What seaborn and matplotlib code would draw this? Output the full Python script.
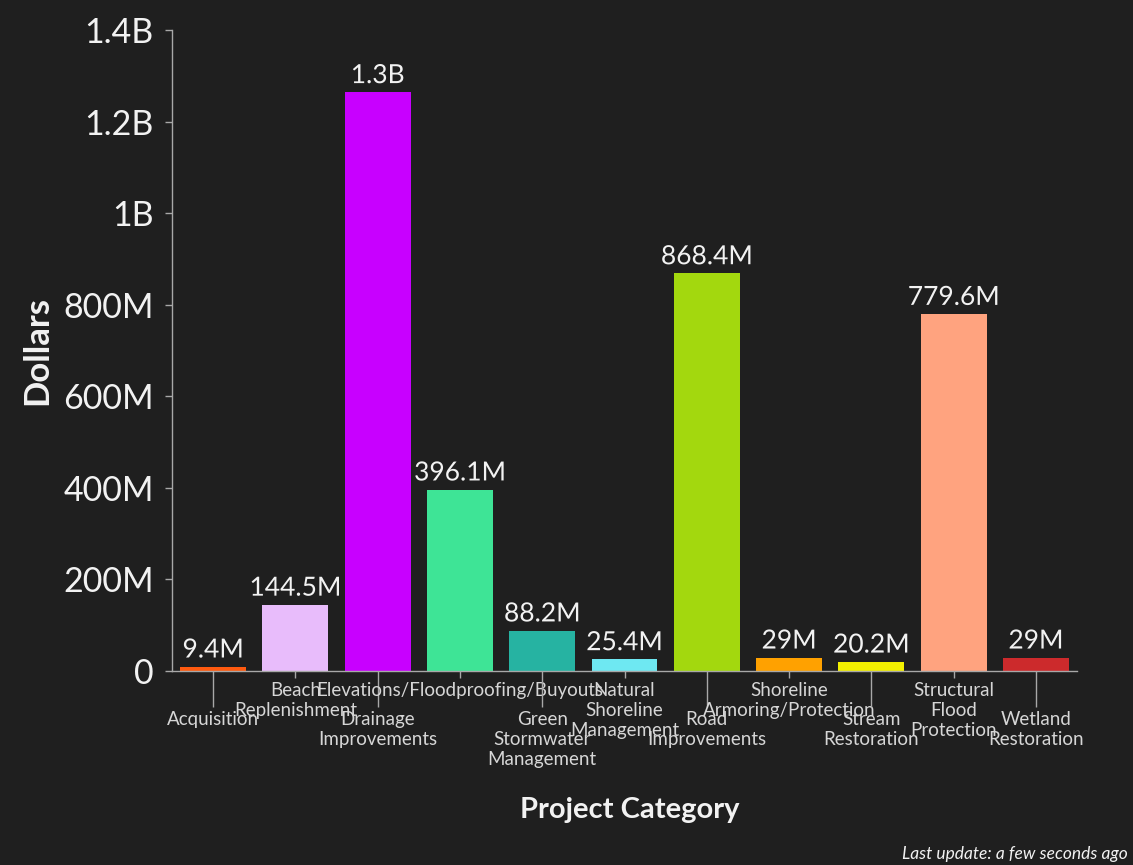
import matplotlib
matplotlib.use("Agg")
import matplotlib.pyplot as plt
import matplotlib.patheffects as pe
from matplotlib.ticker import FuncFormatter
import seaborn as sns
import pandas as pd

# Funding per project category
categories = [
    "Acquisition", "Beach Replenishment", "Drainage Improvements",
    "Elevations/Floodproofing/Buyouts", "Green Stormwater Management",
    "Natural Shoreline Management", "Road Improvements",
    "Shoreline Armoring/Protection", "Stream Restoration",
    "Structural Flood Protection", "Wetland Restoration",
]
tick_labels = [
    "Acquisition", "Beach\nReplenishment", "Drainage\nImprovements",
    "Elevations/Floodproofing/Buyouts", "Green\nStormwater\nManagement",
    "Natural\nShoreline\nManagement", "Road\nImprovements",
    "Shoreline\nArmoring/Protection", "Stream\nRestoration",
    "Structural\nFlood\nProtection", "Wetland\nRestoration",
]
dollars = [9.4e6, 144.5e6, 1.264e9, 396.1e6, 88.2e6, 25.4e6,
           868.4e6, 29e6, 20.2e6, 779.6e6, 29e6]
colors = ["#ff5a0f", "#e8bcfb", "#c800ff", "#3ee496", "#26b3a2", "#6ee8f2",
          "#a3d80e", "#ffa100", "#f3f000", "#ffa37f", "#cc2a2c"]
y_ticks = [0, 200e6, 400e6, 600e6, 800e6, 1.0e9, 1.2e9, 1.4e9]

BG = "#1f1f1f"
AXIS = "#a8a8a8"
TEXT = "#f2f2f2"

sns.set_theme(style="dark")
plt.rcParams["font.family"] = ["Lato", "DejaVu Sans"]


def short_money(v):
    if v == 0:
        return "0"
    if v >= 1e9:
        s, unit = f"{v / 1e9:.1f}", "B"
    else:
        s, unit = f"{v / 1e6:.1f}", "M"
    if s.endswith(".0"):
        s = s[:-2]
    return s + unit


df = pd.DataFrame({"category": categories, "dollars": dollars})

fig = plt.figure(figsize=(11.33, 8.65), dpi=100, facecolor=BG)
ax = fig.add_axes([0.1518, 0.2243, 0.7988, 0.741])
ax.set_facecolor(BG)

sns.barplot(data=df, x="category", y="dollars", hue="category",
            palette=colors, legend=False, width=0.8, saturation=1,
            linewidth=0, ax=ax)

ax.set_xlim(-0.5, len(categories) - 0.5)
ax.set_ylim(0, 1.4e9)
ax.set_yticks(y_ticks)
ax.yaxis.set_major_formatter(FuncFormatter(lambda v, _: short_money(v)))
ax.grid(False)

for side in ("top", "right"):
    ax.spines[side].set_visible(False)
for side in ("left", "bottom"):
    ax.spines[side].set_color(AXIS)
    ax.spines[side].set_linewidth(1)

ax.tick_params(axis="y", which="major", left=True, length=5, width=1,
               color=AXIS, labelcolor=TEXT, labelsize=24.5, pad=8)
ax.tick_params(axis="x", which="major", bottom=True, length=5, width=1,
               color=AXIS, labelcolor="#d6d6d6", labelsize=13.5)

ax.set_xticks(range(len(categories)))
ax.set_xticklabels(tick_labels, linespacing=1.2)

# Staggered category labels: every other label hangs lower on a long tick
for i, tick in enumerate(ax.xaxis.get_major_ticks()):
    if i % 2 == 0:
        tick.set_pad(3 + 21)
        tick.tick1line.set_markersize(26)
    else:
        tick.set_pad(3)
        tick.tick1line.set_markersize(5)

# Value labels above each bar
halo = [pe.withStroke(linewidth=3, foreground=BG)]
for i, v in enumerate(dollars):
    ax.annotate(short_money(v), (i, v), xytext=(0, 3),
                textcoords="offset points", ha="center", va="bottom",
                fontsize=19, color=TEXT, path_effects=halo)

ax.set_xlabel("Project Category", fontsize=21, fontweight="bold",
              color=TEXT)
ax.xaxis.set_label_coords(0.506, -0.217)
ax.xaxis.label.set_va("center")
ax.set_ylabel("Dollars", fontsize=25, fontweight="bold", color=TEXT)
ax.yaxis.set_label_coords(-0.149, 0.5)
ax.yaxis.label.set_va("center")

fig.text(0.9955, 0.003, "Last update: a few seconds ago", ha="right",
         va="bottom", fontsize=12.5, style="italic", color=TEXT)

fig.savefig("out.png", dpi=100, facecolor=BG)
